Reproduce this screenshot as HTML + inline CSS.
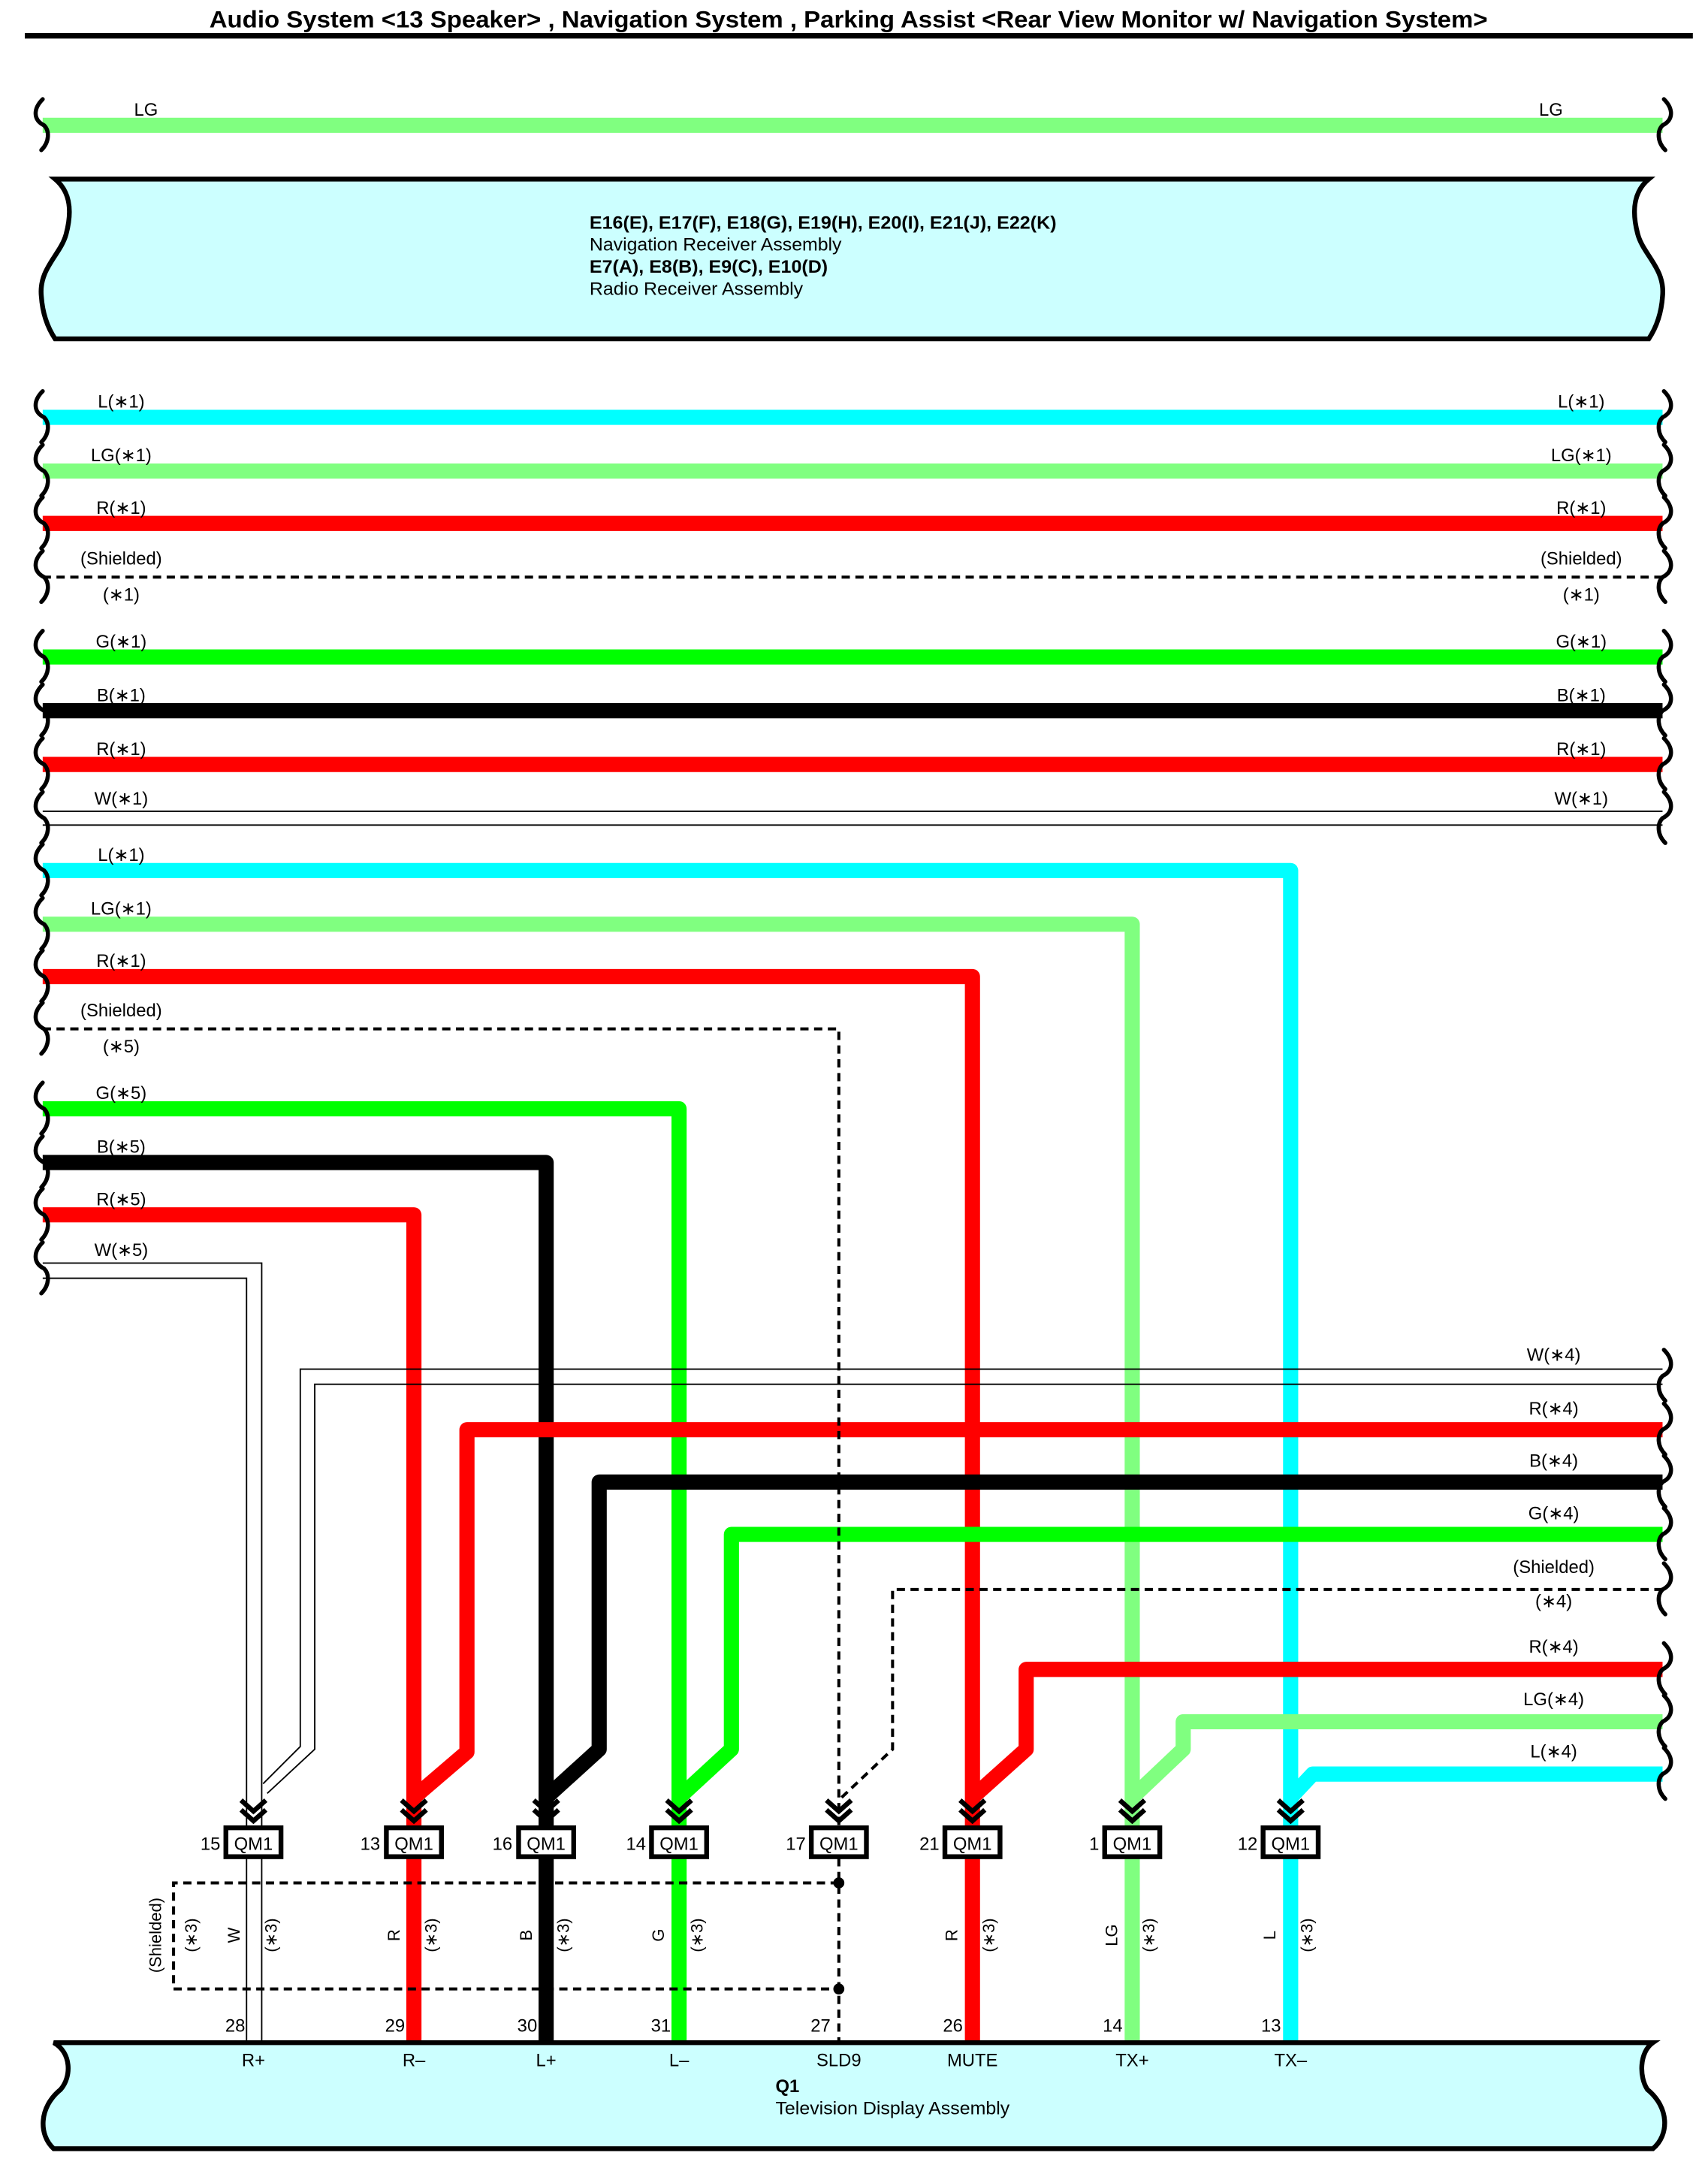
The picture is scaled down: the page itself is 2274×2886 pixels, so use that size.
<!DOCTYPE html>
<html><head><meta charset="utf-8"><style>
html,body{margin:0;padding:0;background:#fff}
svg{display:block}
text{font-family:"Liberation Sans",Arial,sans-serif;fill:#000}
</style></head><body>
<svg xmlns="http://www.w3.org/2000/svg" width="2274" height="2886" viewBox="0 0 1240 1574" preserveAspectRatio="none">
<defs>
<path id="sq" d="M1,-19 C-6,-12 -6,-4 2,0 C6,4 6,12 0,18" fill="none" stroke="#000" stroke-width="3" stroke-linecap="round"/>
<g id="chev" fill="none" stroke="#000" stroke-width="3.5"><path d="M-9,1307 L0,1315 L9,1307"/><path d="M-9,1314 L0,1322 L9,1314"/></g>
</defs>
<rect width="1240" height="1574" fill="#fff"/>
<!-- title -->
<text x="152" y="20" font-size="17" font-weight="bold" textLength="928" lengthAdjust="spacingAndGlyphs">Audio System &lt;13 Speaker&gt; , Navigation System , Parking Assist &lt;Rear View Monitor w/ Navigation System&gt;</text>
<rect x="18" y="24" width="1211" height="4" fill="#000"/>

<!-- top LG -->
<path d="M31,91 H1207" stroke="#80ff80" stroke-width="11"/>
<text x="106" y="84" font-size="13" text-anchor="middle">LG</text>
<text x="1126" y="84" font-size="13" text-anchor="middle">LG</text>
<use href="#sq" transform="translate(30,91)"/>
<use href="#sq" transform="translate(1209,91) scale(-1,1)"/>

<!-- nav box -->
<path d="M40,130 H1197 C1185,140 1185,155 1189,170 C1193,185 1209,195 1207,215 C1206,230 1201,240 1197,246 H40 C36,240 31,230 30,215 C28,195 44,185 48,170 C52,155 52,140 40,130 Z" fill="#ccffff" stroke="#000" stroke-width="3.5"/>
<text x="428" y="166" font-size="13" font-weight="bold" textLength="339" lengthAdjust="spacingAndGlyphs">E16(E), E17(F), E18(G), E19(H), E20(I), E21(J), E22(K)</text>
<text x="428" y="182" font-size="13" textLength="183" lengthAdjust="spacingAndGlyphs">Navigation Receiver Assembly</text>
<text x="428" y="198" font-size="13" font-weight="bold" textLength="173" lengthAdjust="spacingAndGlyphs">E7(A), E8(B), E9(C), E10(D)</text>
<text x="428" y="214" font-size="13" textLength="155" lengthAdjust="spacingAndGlyphs">Radio Receiver Assembly</text>

<!-- full-length wires -->
<g stroke-width="11" fill="none" stroke-linejoin="round">
<path d="M31,303 H1207" stroke="#00ffff"/>
<path d="M31,342 H1207" stroke="#80ff80"/>
<path d="M31,380 H1207" stroke="#ff0000"/>
<path d="M31,477 H1207" stroke="#00ff00"/>
<path d="M31,516 H1207" stroke="#000"/>
<path d="M31,555 H1207" stroke="#ff0000"/>
</g>
<path d="M31,419 H1207" stroke="#000" stroke-width="2.2" stroke-dasharray="6,4" fill="none"/>
<path d="M31,589 H1207 M31,599 H1207" stroke="#000" stroke-width="1" fill="none"/>

<!-- routed wires -->
<g stroke-width="11" fill="none" stroke-linejoin="round">
<path d="M31,632 H937 V1483" stroke="#00ffff"/>
<path d="M31,671 H822 V1483" stroke="#80ff80"/>
<path d="M31,709 H706 V1483" stroke="#ff0000"/>
<path d="M31,805 H493 V1483" stroke="#00ff00"/>
<path d="M31,844 H396.5 V1483" stroke="#000"/>
<path d="M31,882 H300.5 V1483" stroke="#ff0000"/>
<path d="M1207,1038 H339 V1272 L300.5,1305" stroke="#ff0000"/>
<path d="M1207,1076 H435 V1270 L396.5,1305" stroke="#000"/>
<path d="M1207,1114 H531 V1270 L493,1305" stroke="#00ff00"/>
<path d="M1207,1212 H745 V1270 L706,1305" stroke="#ff0000"/>
<path d="M1207,1250 H859 V1270 L822,1305" stroke="#80ff80"/>
<path d="M1207,1288 H953 L937,1305" stroke="#00ffff"/>
</g>
<g stroke="#000" stroke-width="2.2" stroke-dasharray="6,4" fill="none">
<path d="M31,747 H609 V1483"/>
<path d="M1207,1154 H648 V1270 L611,1305"/>
<path d="M609,1367 H126 V1444 H609"/>
</g>
<circle cx="609" cy="1367" r="4" fill="#000"/>
<circle cx="609" cy="1444" r="4" fill="#000"/>
<g stroke="#000" stroke-width="1" fill="none">
<path d="M31,917 H190 V1483"/>
<path d="M31,928 H179 V1483"/>
<path d="M1207,994 H218 V1268 L191,1295"/>
<path d="M1207,1005 H228.5 V1270 L194,1302"/>
</g>

<!-- left squiggles -->
<g>
<use href="#sq" transform="translate(30,303)"/>
<use href="#sq" transform="translate(30,342)"/>
<use href="#sq" transform="translate(30,380)"/>
<use href="#sq" transform="translate(30,419)"/>
<use href="#sq" transform="translate(30,477)"/>
<use href="#sq" transform="translate(30,516)"/>
<use href="#sq" transform="translate(30,555)"/>
<use href="#sq" transform="translate(30,594)"/>
<use href="#sq" transform="translate(30,632)"/>
<use href="#sq" transform="translate(30,671)"/>
<use href="#sq" transform="translate(30,709)"/>
<use href="#sq" transform="translate(30,747)"/>
<use href="#sq" transform="translate(30,805)"/>
<use href="#sq" transform="translate(30,844)"/>
<use href="#sq" transform="translate(30,882)"/>
<use href="#sq" transform="translate(30,921)"/>
</g>
<!-- right squiggles -->
<g>
<use href="#sq" transform="translate(1209,303) scale(-1,1)"/>
<use href="#sq" transform="translate(1209,342) scale(-1,1)"/>
<use href="#sq" transform="translate(1209,380) scale(-1,1)"/>
<use href="#sq" transform="translate(1209,419) scale(-1,1)"/>
<use href="#sq" transform="translate(1209,477) scale(-1,1)"/>
<use href="#sq" transform="translate(1209,516) scale(-1,1)"/>
<use href="#sq" transform="translate(1209,555) scale(-1,1)"/>
<use href="#sq" transform="translate(1209,594) scale(-1,1)"/>
<use href="#sq" transform="translate(1209,999) scale(-1,1)"/>
<use href="#sq" transform="translate(1209,1038) scale(-1,1)"/>
<use href="#sq" transform="translate(1209,1076) scale(-1,1)"/>
<use href="#sq" transform="translate(1209,1114) scale(-1,1)"/>
<use href="#sq" transform="translate(1209,1154) scale(-1,1)"/>
<use href="#sq" transform="translate(1209,1212) scale(-1,1)"/>
<use href="#sq" transform="translate(1209,1250) scale(-1,1)"/>
<use href="#sq" transform="translate(1209,1288) scale(-1,1)"/>
</g>

<!-- left labels -->
<g font-size="13" text-anchor="middle">
<text x="88" y="296">L(∗1)</text>
<text x="88" y="335">LG(∗1)</text>
<text x="88" y="373">R(∗1)</text>
<text x="88" y="410">(Shielded)</text>
<text x="88" y="436">(∗1)</text>
<text x="88" y="470">G(∗1)</text>
<text x="88" y="509">B(∗1)</text>
<text x="88" y="548">R(∗1)</text>
<text x="88" y="584">W(∗1)</text>
<text x="88" y="625">L(∗1)</text>
<text x="88" y="664">LG(∗1)</text>
<text x="88" y="702">R(∗1)</text>
<text x="88" y="738">(Shielded)</text>
<text x="88" y="764">(∗5)</text>
<text x="88" y="798">G(∗5)</text>
<text x="88" y="837">B(∗5)</text>
<text x="88" y="875">R(∗5)</text>
<text x="88" y="912">W(∗5)</text>
</g>
<!-- right labels -->
<g font-size="13" text-anchor="middle">
<text x="1148" y="296">L(∗1)</text>
<text x="1148" y="335">LG(∗1)</text>
<text x="1148" y="373">R(∗1)</text>
<text x="1148" y="410">(Shielded)</text>
<text x="1148" y="436">(∗1)</text>
<text x="1148" y="470">G(∗1)</text>
<text x="1148" y="509">B(∗1)</text>
<text x="1148" y="548">R(∗1)</text>
<text x="1148" y="584">W(∗1)</text>
<text x="1128" y="988">W(∗4)</text>
<text x="1128" y="1027">R(∗4)</text>
<text x="1128" y="1065">B(∗4)</text>
<text x="1128" y="1103">G(∗4)</text>
<text x="1128" y="1142">(Shielded)</text>
<text x="1128" y="1167">(∗4)</text>
<text x="1128" y="1200">R(∗4)</text>
<text x="1128" y="1238">LG(∗4)</text>
<text x="1128" y="1276">L(∗4)</text>
</g>

<!-- connectors -->
<g>
<use href="#chev" transform="translate(184,0)"/>
<use href="#chev" transform="translate(300.5,0)"/>
<use href="#chev" transform="translate(396.5,0)"/>
<use href="#chev" transform="translate(493,0)"/>
<use href="#chev" transform="translate(609,0)"/>
<use href="#chev" transform="translate(706,0)"/>
<use href="#chev" transform="translate(822,0)"/>
<use href="#chev" transform="translate(937,0)"/>
</g>
<g fill="#fff" stroke="#000" stroke-width="3.5">
<rect x="164" y="1327" width="40" height="21"/>
<rect x="280.5" y="1327" width="40" height="21"/>
<rect x="376.5" y="1327" width="40" height="21"/>
<rect x="473" y="1327" width="40" height="21"/>
<rect x="589" y="1327" width="40" height="21"/>
<rect x="686" y="1327" width="40" height="21"/>
<rect x="802" y="1327" width="40" height="21"/>
<rect x="917" y="1327" width="40" height="21"/>
</g>
<g font-size="13" text-anchor="middle">
<text x="184" y="1343">QM1</text>
<text x="300.5" y="1343">QM1</text>
<text x="396.5" y="1343">QM1</text>
<text x="493" y="1343">QM1</text>
<text x="609" y="1343">QM1</text>
<text x="706" y="1343">QM1</text>
<text x="822" y="1343">QM1</text>
<text x="937" y="1343">QM1</text>
</g>
<g font-size="13" text-anchor="end">
<text x="160" y="1343">15</text>
<text x="276" y="1343">13</text>
<text x="372" y="1343">16</text>
<text x="469" y="1343">14</text>
<text x="585" y="1343">17</text>
<text x="682" y="1343">21</text>
<text x="798" y="1343">1</text>
<text x="913" y="1343">12</text>
</g>

<!-- vertical labels -->
<g font-size="12" text-anchor="middle">
<text transform="translate(117,1405) rotate(-90)">(Shielded)</text>
<text transform="translate(143,1405) rotate(-90)">(∗3)</text>
<text transform="translate(174,1405) rotate(-90)">W</text>
<text transform="translate(201,1405) rotate(-90)">(∗3)</text>
<text transform="translate(290,1405) rotate(-90)">R</text>
<text transform="translate(317,1405) rotate(-90)">(∗3)</text>
<text transform="translate(386,1405) rotate(-90)">B</text>
<text transform="translate(413,1405) rotate(-90)">(∗3)</text>
<text transform="translate(482,1405) rotate(-90)">G</text>
<text transform="translate(510,1405) rotate(-90)">(∗3)</text>
<text transform="translate(695,1405) rotate(-90)">R</text>
<text transform="translate(722,1405) rotate(-90)">(∗3)</text>
<text transform="translate(811,1405) rotate(-90)">LG</text>
<text transform="translate(838,1405) rotate(-90)">(∗3)</text>
<text transform="translate(926,1405) rotate(-90)">L</text>
<text transform="translate(953,1405) rotate(-90)">(∗3)</text>
</g>
<!-- bottom pins -->
<g font-size="13" text-anchor="end">
<text x="178" y="1475">28</text>
<text x="294" y="1475">29</text>
<text x="390" y="1475">30</text>
<text x="487" y="1475">31</text>
<text x="603" y="1475">27</text>
<text x="699" y="1475">26</text>
<text x="815" y="1475">14</text>
<text x="930" y="1475">13</text>
</g>

<!-- bottom box -->
<path d="M39,1483 H1200 C1190,1490 1190,1508 1196,1517 C1212,1530 1212,1550 1200,1560 H39 C28,1550 28,1530 44,1517 C52,1508 52,1490 39,1483 Z" fill="#ccffff" stroke="#000" stroke-width="3.5"/>
<g font-size="13" text-anchor="middle">
<text x="184" y="1500">R+</text>
<text x="300.5" y="1500">R–</text>
<text x="396.5" y="1500">L+</text>
<text x="493" y="1500">L–</text>
<text x="609" y="1500">SLD9</text>
<text x="706" y="1500">MUTE</text>
<text x="822" y="1500">TX+</text>
<text x="937" y="1500">TX–</text>
</g>
<text x="563" y="1519" font-size="13" font-weight="bold">Q1</text>
<text x="563" y="1535" font-size="13" textLength="170" lengthAdjust="spacingAndGlyphs">Television Display Assembly</text>
</svg>
</body></html>
